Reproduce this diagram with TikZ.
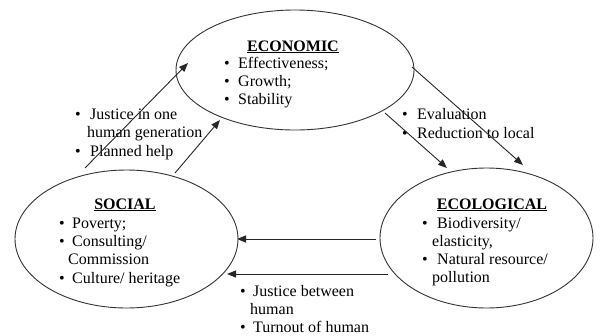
\documentclass[tikz,border=0pt]{standalone}
\usepackage{fontspec}
\setmainfont{Liberation Serif}
\usetikzlibrary{shapes.geometric,arrows.meta}
\begin{document}
\begin{tikzpicture}[x=1pt,y=-1pt,
  sphere/.style={draw=black!80,line width=0.9pt,ellipse,inner sep=0pt},
  txt/.style={anchor=base west,inner sep=0pt,font=\fontsize{16}{18}\selectfont},
  ttl/.style={anchor=base,inner sep=0pt,font=\fontsize{16}{18}\selectfont\bfseries},
  bul/.style={anchor=base,inner sep=0pt,font=\fontsize{16}{18}\selectfont},
  conn/.style={draw=black!85,line width=0.9pt,-{Triangle[length=9pt,width=7pt]}}]
\useasboundingbox (0,0) rectangle (600,335);
\fill[white] (0,0) rectangle (600,335);
% ellipses
\node[sphere,minimum width=238pt,minimum height=120pt] (eco) at (295,70) {};
\node[sphere,minimum width=223pt,minimum height=138pt] (soc) at (126.5,239) {};
\node[sphere,minimum width=213pt,minimum height=140pt] (ecl) at (486.5,238) {};
% economic text
\node[ttl] (ecoT) at (293,51) {\underline{ECONOMIC}};
\node[bul] (eb1) at (227,68) {\textbullet};
\node[txt] (e1) at (238,68) {Effectiveness;};
\node[bul] (eb2) at (227,86) {\textbullet};
\node[txt] (e2) at (238,86) {Growth;};
\node[bul] (eb3) at (227,104) {\textbullet};
\node[txt] (e3) at (238,104) {Stability};
% social text
\node[ttl] (socT) at (125,209) {\underline{SOCIAL}};
\node[bul] (sb1) at (62,228) {\textbullet};
\node[txt] (s1) at (72,228) {Poverty;};
\node[bul] (sb2) at (62,246) {\textbullet};
\node[txt] (s2) at (72,246) {Consulting/};
\node[txt] (s2b) at (68,264) {Commission};
\node[bul] (sb3) at (62,283) {\textbullet};
\node[txt] (s3) at (72,283) {Culture/ heritage};
% ecological text
\node[ttl] (eclT) at (492,209) {\underline{ECOLOGICAL}};
\node[bul] (cb1) at (425,228) {\textbullet};
\node[txt] (c1) at (437,228) {Biodiversity/};
\node[txt] (c1b) at (432,246) {elasticity,};
\node[bul] (cb2) at (425,264) {\textbullet};
\node[txt] (c2) at (437,264) {Natural resource/};
\node[txt] (c2b) at (432,282) {pollution};
% left label
\node[bul] (lb1) at (78,119) {\textbullet};
\node[txt] (l1) at (90,119) {Justice in one};
\node[txt] (l1b) at (87,137) {human generation};
\node[bul] (lb2) at (78,156) {\textbullet};
\node[txt] (l2) at (90,156) {Planned help};
% right label
\node[bul] (rb1) at (405,119) {\textbullet};
\node[txt] (r1) at (417,119) {Evaluation};
\node[bul] (rb2) at (405,138) {\textbullet};
\node[txt] (r2) at (417,138) {Reduction to local};
% bottom label
\node[bul] (bb1) at (243,296) {\textbullet};
\node[txt] (b1) at (253,296) {Justice between};
\node[txt] (b1b) at (250,314) {human};
\node[bul] (bb2) at (243,332) {\textbullet};
\node[txt] (b2) at (253,332) {Turnout of human};
% connector end points
\coordinate (a1s) at (85,168);  \coordinate (a1e) at (188,63);
\coordinate (a2s) at (175,173); \coordinate (a2e) at (220,120);
\coordinate (a3s) at (385,113); \coordinate (a3e) at (447,168);
\coordinate (a4s) at (412,67);  \coordinate (a4e) at (523,165);
\coordinate (a5s) at (376,239); \coordinate (a5e) at (237,239);
\coordinate (a6s) at (388,274); \coordinate (a6e) at (227,274);
\draw[conn] (a1s) -- (a1e);
\draw[conn] (a2s) -- (a2e);
\draw[conn] (a3s) -- (a3e);
\draw[conn] (a4s) -- (a4e);
\draw[conn] (a5s) -- (a5e);
\draw[conn] (a6s) -- (a6e);
\end{tikzpicture}
\end{document}
